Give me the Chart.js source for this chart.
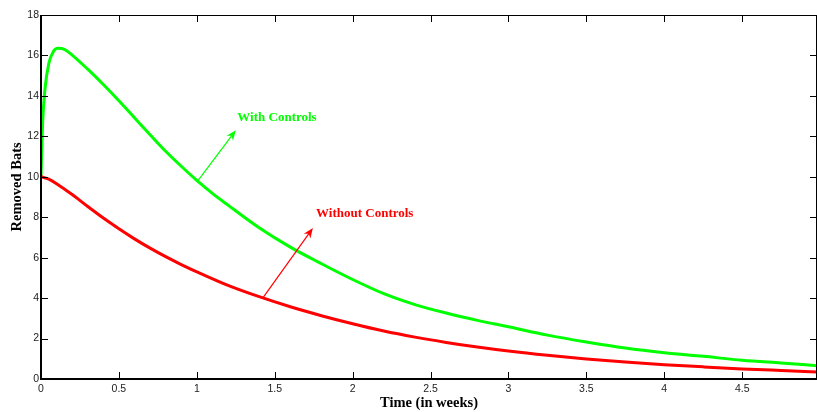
<!DOCTYPE html>
<html>
<head>
<meta charset="utf-8">
<script src="https://cdn.jsdelivr.net/npm/chart.js@4.4.1/dist/chart.umd.min.js"></script>
<style>
  html, body { margin: 0; padding: 0; background: #fff; }
  #wrap { width: 817px; height: 412px; }
</style>
</head>
<body>
<div id="wrap"><canvas id="bats"></canvas></div>
<script>
// Removed bats over time (weeks)
const tWith = [0, 0.01, 0.025, 0.05, 0.08, 0.11, 0.15, 0.2, 0.3, 0.4, 0.5, 0.6, 0.7, 0.8, 0.9, 1.0, 1.1,
  1.2, 1.4, 1.6, 1.8, 2.0, 2.2, 2.4, 2.6, 2.8, 3.0, 3.25, 3.5, 3.75, 4.0, 4.25, 4.5, 4.75, 4.98];
const withControls = [10, 12.6, 14.3, 15.6, 16.2, 16.35, 16.3, 16.02, 15.32, 14.56, 13.76, 12.92, 12.08, 11.26, 10.52, 9.82, 9.18,
  8.6, 7.48, 6.52, 5.7, 4.92, 4.22, 3.68, 3.26, 2.9, 2.58, 2.17, 1.83, 1.53, 1.3, 1.12, 0.93, 0.79, 0.66];

const tWithout = [0, 0.05, 0.1, 0.2, 0.3, 0.4, 0.5, 0.6, 0.7, 0.8, 0.9, 1.0,
  1.2, 1.4, 1.6, 1.8, 2.0, 2.2, 2.4, 2.6, 2.8, 3.0, 3.25, 3.5, 3.75, 4.0, 4.25, 4.5, 4.75, 4.98];
const withoutControls = [10, 9.88, 9.66, 9.12, 8.53, 7.96, 7.43, 6.93, 6.47, 6.05, 5.66, 5.3,
  4.63, 4.07, 3.57, 3.13, 2.73, 2.37, 2.07, 1.81, 1.58, 1.38, 1.17, 0.99, 0.84, 0.71, 0.6, 0.5, 0.42, 0.35];

const xTicks = [0, 0.5, 1, 1.5, 2, 2.5, 3, 3.5, 4, 4.5];
const yTicks = [0, 2, 4, 6, 8, 10, 12, 14, 16, 18];
const xTitle = 'Time (in weeks)';
const yTitle = 'Removed Bats';

// text labels with arrows (data units)
const notes = [
  { text: 'With Controls', color: '#00ff00', x: 1.26, y: 12.9, from: [1.0, 9.74], to: [1.25, 12.3] },
  { text: 'Without Controls', color: '#ff0000', x: 1.765, y: 8.17, from: [1.425, 4.02], to: [1.745, 7.47] }
];

const toPts = (xs, ys) => xs.map((x, i) => ({ x: x, y: ys[i] }));
const serif = '"Liberation Serif", "Times New Roman", serif';

const boxPlugin = {
  id: 'box',
  afterDraw(chart) {
    const { ctx, chartArea: a, scales } = chart;
    const x = scales.x, y = scales.y;
    ctx.save();
    ctx.strokeStyle = '#000';
    ctx.lineWidth = 1;
    ctx.beginPath();
    ctx.moveTo(a.left, a.top + 0.5); ctx.lineTo(a.right, a.top + 0.5);
    ctx.moveTo(a.right - 0.5, a.top); ctx.lineTo(a.right - 0.5, a.bottom);
    ctx.stroke();
    ctx.lineWidth = 2;
    ctx.beginPath();
    ctx.moveTo(a.left, a.top); ctx.lineTo(a.left, a.bottom);
    ctx.lineTo(a.right, a.bottom);
    ctx.stroke();
    ctx.lineWidth = 1;
    ctx.beginPath();
    xTicks.forEach(v => {
      const px = Math.round(x.getPixelForValue(v)) + 0.5;
      ctx.moveTo(px, a.bottom); ctx.lineTo(px, a.bottom - 7);
      ctx.moveTo(px, a.top); ctx.lineTo(px, a.top + 7);
    });
    yTicks.forEach(v => {
      const py = Math.round(y.getPixelForValue(v)) + 0.5;
      ctx.moveTo(a.left, py); ctx.lineTo(a.left + 7, py);
      ctx.moveTo(a.right, py); ctx.lineTo(a.right - 7, py);
    });
    ctx.stroke();

    // axis titles
    ctx.fillStyle = '#000';
    ctx.font = 'bold 14.5px ' + serif;
    ctx.textAlign = 'center';
    ctx.textBaseline = 'alphabetic';
    ctx.fillText(xTitle, (a.left + a.right) / 2, 406.5);
    ctx.translate(20.5, y.getPixelForValue(9.5));
    ctx.rotate(-Math.PI / 2);
    ctx.fillText(yTitle, 0, 0);
    ctx.restore();
  },
  afterDatasetsDraw(chart) {
    const { ctx } = chart;
    const x = chart.scales.x, y = chart.scales.y;
    ctx.save();
    notes.forEach(n => {
      const x0 = x.getPixelForValue(n.from[0]), y0 = y.getPixelForValue(n.from[1]);
      const x1 = x.getPixelForValue(n.to[0]), y1 = y.getPixelForValue(n.to[1]);
      const ang = Math.atan2(y1 - y0, x1 - x0);
      const c = Math.cos(ang), s = Math.sin(ang);
      ctx.strokeStyle = n.color;
      ctx.fillStyle = n.color;
      ctx.lineWidth = 1.2;
      ctx.beginPath();
      ctx.moveTo(x0, y0);
      ctx.lineTo(x1 - 6 * c, y1 - 6 * s);
      ctx.stroke();
      ctx.beginPath();
      ctx.moveTo(x1, y1);
      ctx.lineTo(x1 - 10 * c + 4 * s, y1 - 10 * s - 4 * c);
      ctx.lineTo(x1 - 7 * c, y1 - 7 * s);
      ctx.lineTo(x1 - 10 * c - 4 * s, y1 - 10 * s + 4 * c);
      ctx.closePath();
      ctx.fill();
      ctx.font = 'bold 13px ' + serif;
      ctx.textAlign = 'left';
      ctx.textBaseline = 'middle';
      ctx.fillText(n.text, x.getPixelForValue(n.x), y.getPixelForValue(n.y));
    });
    ctx.restore();
  }
};

new Chart(document.getElementById('bats'), {
  type: 'line',
  data: {
    datasets: [
      {
        label: 'Without Controls',
        data: toPts(tWithout, withoutControls),
        borderColor: '#ff0000',
        borderWidth: 3,
        pointRadius: 0,
        cubicInterpolationMode: 'monotone',
        fill: false
      },
      {
        label: 'With Controls',
        data: toPts(tWith, withControls),
        borderColor: '#00ff00',
        borderWidth: 3,
        pointRadius: 0,
        cubicInterpolationMode: 'monotone',
        fill: false
      }
    ]
  },
  options: {
    responsive: true,
    maintainAspectRatio: false,
    animation: false,
    layout: { padding: { top: 15, right: 0, left: 0, bottom: 0 } },
    plugins: { legend: { display: false }, tooltip: { enabled: false } },
    scales: {
      x: {
        type: 'linear',
        min: 0,
        max: 4.98,
        grid: { display: false, drawTicks: false },
        border: { display: false },
        afterBuildTicks: s => { s.ticks = xTicks.map(v => ({ value: v })); },
        afterFit: s => { s.height = 33; },
        ticks: {
          autoSkip: false,
          maxRotation: 0,
          padding: 4,
          color: '#222',
          callback: v => String(v),
          font: { family: '"Liberation Sans", Arial, sans-serif', size: 10.5 }
        },
        title: { display: false }
      },
      y: {
        min: 0,
        max: 18,
        grid: { display: false, drawTicks: false },
        border: { display: false },
        afterBuildTicks: s => { s.ticks = yTicks.map(v => ({ value: v })); },
        afterFit: s => { s.width = 41; },
        ticks: {
          padding: 2,
          color: '#222',
          callback: v => String(v),
          font: { family: '"Liberation Sans", Arial, sans-serif', size: 10.5 }
        },
        title: { display: false }
      }
    }
  },
  plugins: [boxPlugin]
});
</script>
</body>
</html>
